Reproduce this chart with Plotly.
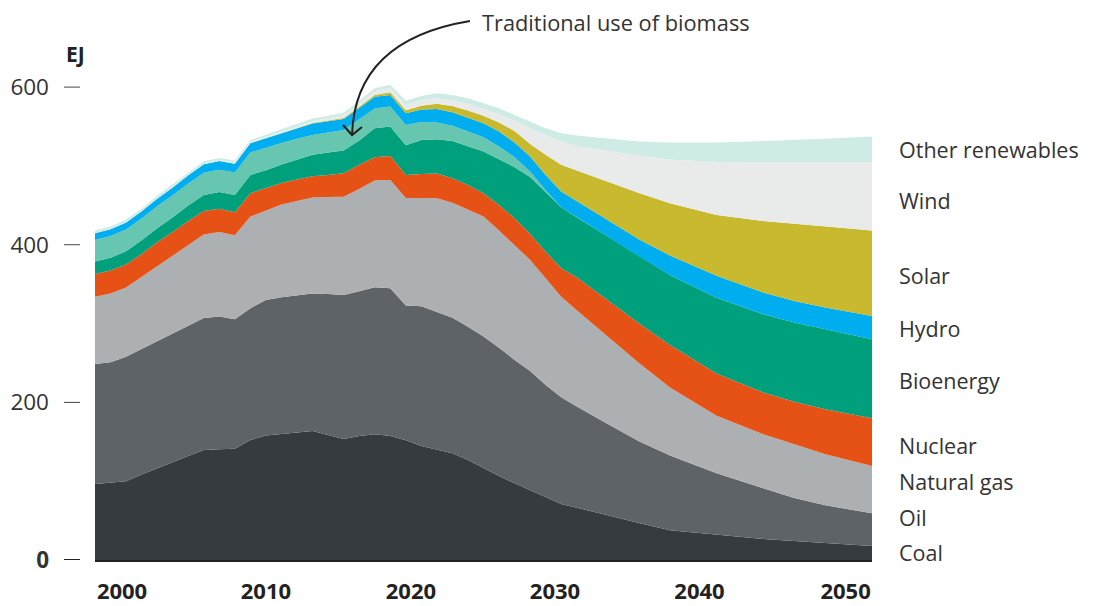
import plotly.graph_objects as go

years = list(range(2000, 2032)) + [2033, 2035, 2037, 2040, 2043, 2045, 2047, 2050]

coal = [96.4, 98, 100, 108.6, 116, 124, 132, 139.6, 140.4, 141,
        152.3, 157.8, 160, 161.6, 163.7, 158.6, 153.6, 157.4, 159.5, 157.4,
        151.8, 144.7, 139.6, 135.4, 127, 116.3, 106.6, 97.3, 88.8, 79.5, 71, 66.4,
        56.4, 47, 37.7, 32, 26.6, 24.1, 21.6, 17.8]
oil = [152.3, 152.8, 158, 159.2, 161.7, 163.7, 165.5, 167.4, 168.4, 164.4,
       167.1, 172.2, 173.3, 174.4, 174.3, 179, 182.7, 183.6, 186.5, 187.4,
       171, 177.3, 175.4, 172.1, 169, 167.1, 162.8, 156.5, 151, 142.5, 135.4, 128.2,
       116.2, 103.6, 94.8, 78, 64.4, 54.6, 47.8, 41.4]
natural_gas = [85.3, 87.2, 87.6, 91.2, 95.3, 98.3, 102.5, 106, 107.2, 106.6,
               116.3, 113.7, 117.7, 119.6, 122, 123.1, 124.7, 129.8, 135.4, 137.4,
               136.4, 137.4, 144, 145.9, 149, 152.3, 148.6, 145.9, 140.9, 135.5, 127.6, 122.4,
               110.6, 99.4, 86.5, 73, 68.5, 68.3, 64.9, 60.1]
nuclear = [29, 29.3, 29.4, 29.2, 30, 30, 30.2, 29.8, 29.6, 29.2,
           29.6, 27.9, 27.4, 27, 27, 27.9, 29.7, 30.5, 29.6, 30.5,
           29.4, 30.4, 31.2, 31, 30.9, 29.6, 32.5, 33.9, 33, 33.7, 36.2, 41.7,
           46.1, 50.3, 53.8, 53.7, 53.1, 53.7, 56.9, 60.5]
bioenergy = [15.6, 16.2, 16.8, 17.4, 18, 18.8, 19.6, 20.4, 21.2, 22,
             23.3, 22.9, 23.3, 25, 27, 28.4, 28.7, 31, 36.8, 37.3,
             37.5, 43.2, 43.6, 47.3, 48.6, 52.9, 58, 64.7, 72.3, 75.9, 77.2, 76.2,
             81.2, 85.1, 88.9, 96.1, 99.2, 100.7, 101.4, 100.2]
traditional_biomass = [27.4, 27.5, 27.6, 27.7, 27.8, 27.9, 28, 28.1, 28.2, 28.3,
                       28.4, 28.8, 27.5, 26.7, 25.3, 25.3, 26.3, 27, 25, 25.4,
                       25.9, 22.8, 21.4, 19.1, 19.1, 18.2, 16, 12.7, 7, 2, 0, 0,
                       0, 0, 0, 0, 0, 0, 0, 0]
hydro = [8.6, 8.6, 8.9, 9.1, 9.6, 10, 10.4, 10.8, 11.1, 11.3,
         11.8, 11.7, 12.7, 13.5, 14.4, 14.4, 13.9, 14.3, 14.8, 14.6,
         14.8, 15.7, 17.1, 17.2, 18, 17.8, 19.1, 18.7, 19, 19.5, 20, 20.3,
         20.7, 21.6, 24.7, 27.9, 27.5, 27.3, 27.9, 29.6]
solar = [0, 0, 0, 0, 0, 0, 0, 0, 0, 0.05,
         0.1, 0.2, 0.3, 0.5, 0.6, 0.8, 1.1, 1.6, 2.4, 3.4,
         3.8, 4.8, 6.5, 8.1, 8.8, 9.3, 11.4, 14.7, 15.9, 25.4, 33.9, 38.9,
         48.6, 58.7, 66.2, 77, 90.7, 97.7, 102.4, 108.3]
wind = [0.3, 0.4, 0.5, 0.6, 0.7, 0.8, 0.9, 1.0, 1.1, 1.2,
        1.3, 1.6, 1.9, 2.2, 2.5, 2.9, 3.3, 3.8, 4.6, 5.5,
        6.5, 7.0, 6.9, 6.9, 8.3, 8.8, 10.5, 13.1, 19.9, 25.3, 29.5, 30.8,
        39, 47.6, 55.4, 67.3, 74.7, 78.3, 81.8, 86.8]
other_renewables = [3.1, 3.1, 3.1, 3.1, 3.0, 3.0, 2.9, 2.9, 2.8, 2.8,
                    2.8, 2.9, 3.0, 3.1, 3.2, 3.3, 3.4, 3.6, 3.8, 3.9,
                    5.4, 5.5, 6.5, 7.0, 7.2, 7.3, 7.7, 7.2, 8.4, 8.5, 10.7, 13.6,
                    16.1, 17.6, 21.8, 24.8, 27, 28.3, 29.6, 32.5]

series_names = ["Coal", "Oil", "Natural gas", "Nuclear", "Bioenergy",
                "Traditional use of biomass", "Hydro", "Solar", "Wind", "Other renewables"]
series_values = [coal, oil, natural_gas, nuclear, bioenergy,
                 traditional_biomass, hydro, solar, wind, other_renewables]
colors = ["#353b3e", "#5e6367", "#adb0b2", "#e65215", "#00a07c",
          "#66c6b0", "#00aeef", "#c8b92e", "#e9ebea", "#ceece5"]

# right-hand labels and their vertical positions (EJ)
label_names = ["Other renewables", "Wind", "Solar", "Hydro", "Bioenergy",
               "Nuclear", "Natural gas", "Oil", "Coal"]
label_y = [520.3, 455.8, 360.4, 293.1, 227.2, 144.7, 99, 53.3, 8.9]

x_tick_pos = [2001.74, 2011.0, 2020.33, 2029.6, 2038.9, 2048.3]
x_tick_text = ["2000", "2010", "2020", "2030", "2040", "2050"]
y_tick_vals = [0, 200, 400, 600]
y_tick_text = ["<b>0</b>", "200", "400", "600"]

FONT = "Open Sans"

fig = go.Figure()
for name, vals, col in zip(series_names, series_values, colors):
    fig.add_trace(go.Scatter(
        x=years, y=vals, name=name, mode="lines",
        stackgroup="one", line=dict(width=0, color=col),
        fillcolor=col, hoverinfo="x+y+name"))

annotations = []
for name, yv in zip(label_names, label_y):
    annotations.append(dict(x=1.0, xref="paper", y=yv, yref="y", text=name,
                            showarrow=False, xanchor="left", yanchor="middle",
                            xshift=25,
                            font=dict(family=FONT, size=21.5, color="#333")))
annotations.append(dict(x=-0.0245, xref="paper", y=1.0348, yref="paper", text="<b>EJ</b>",
                        showarrow=False, xanchor="center", yanchor="middle",
                        font=dict(family=FONT, size=21, color="#222")))
annotations.append(dict(x=0.496, xref="paper", y=1.1002, yref="paper",
                        text="Traditional use of biomass", showarrow=False,
                        xanchor="left", yanchor="middle",
                        font=dict(family=FONT, size=21.8, color="#333")))

shapes = []
for v in y_tick_vals:
    shapes.append(dict(type="line", xref="paper", yref="y", x0=-0.0399, x1=-0.0193,
                       y0=v, y1=v,
                       line=dict(color="#222" if v == 0 else "#444", width=2 if v == 0 else 1)))
# curved arrow
shapes.append(dict(type="path", xref="paper", yref="paper",
                   path="M 0.4826,1.1022 Q 0.3346,1.0634 0.3308,0.8691",
                   line=dict(color="#222", width=2)))
shapes.append(dict(type="path", xref="paper", yref="paper",
                   path="M 0.3192,0.8896 L 0.3308,0.8691 L 0.3436,0.8855",
                   line=dict(color="#222", width=2)))

# page body has an 8px margin, so the figure is sized to fit inside the window
fig.update_layout(
    width=1096, height=598,
    margin=dict(l=87, r=232, t=63, b=46, autoexpand=False),
    paper_bgcolor="white", plot_bgcolor="white",
    showlegend=False,
    font=dict(family=FONT),
    annotations=annotations, shapes=shapes,
    xaxis=dict(range=[2000, 2050], showgrid=False, zeroline=False, automargin=False,
               showline=True, linecolor="#222", linewidth=2,
               tickvals=x_tick_pos, ticktext=x_tick_text, ticks="",
               ticklabelstandoff=11,
               tickfont=dict(family=FONT, size=22, color="#222", weight="bold")),
    yaxis=dict(range=[0, 620.4], showgrid=False, zeroline=False, showline=False,
               automargin=False,
               tickvals=y_tick_vals, ticktext=y_tick_text, ticks="",
               ticklabelstandoff=45,
               tickfont=dict(family=FONT, size=22.5, color="#333")),
)

fig.write_html("out.html")
